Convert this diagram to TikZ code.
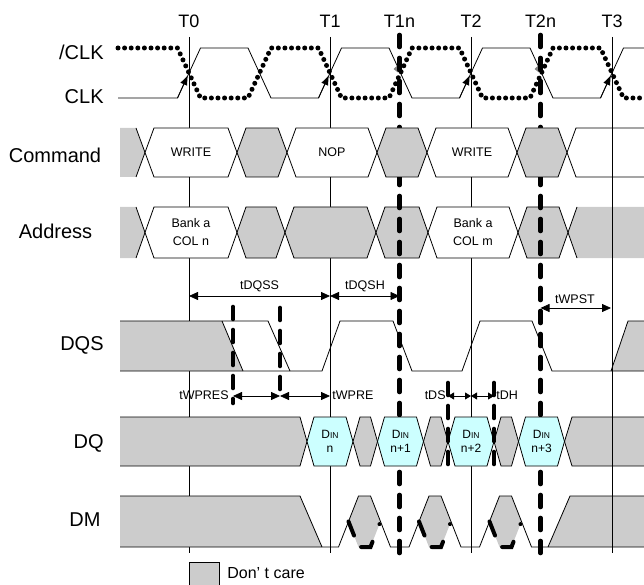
\documentclass[tikz,border=0pt]{standalone}
\usepackage{fontspec}
\setmainfont{Liberation Sans}
\usetikzlibrary{arrows.meta}
\definecolor{dinfill}{HTML}{CCFFFF}

\begin{document}
\begin{tikzpicture}[x=1pt, y=-1pt, line width=0.8pt,
    dontcare/.style={fill=gray!40},
    strobe/.style={line width=4.6pt, dash pattern=on 12pt off 11pt, line cap=round},
    dotclk/.style={line width=5pt, dash pattern=on 0pt off 6.6pt, line cap=round},
    maskedge/.style={line width=4pt, line cap=round, dash pattern=on 15pt off 15pt on 15pt off 19pt on 0pt off 20pt},
    timing/.style={{Triangle[length=9pt,width=8pt]}-{Triangle[length=9pt,width=8pt]}},
    shorttiming/.style={{Triangle[length=6pt,width=7pt]}-{Triangle[length=6pt,width=7pt]}},
    siglabel/.style={font=\fontsize{20}{24}\selectfont, inner sep=0pt},
    tlabel/.style={font=\fontsize{18}{22}\selectfont, inner sep=0pt},
    buslabel/.style={font=\fontsize{12.5}{18}\selectfont, align=center, inner sep=0pt},
    dinlabel/.style={font=\fontsize{12}{14}\selectfont, align=center, inner sep=0pt}]

\useasboundingbox (0,0) rectangle (644,585);

% right ends, the T lines run through them
\draw (644,128) -- (576,128) -- (567,152.5) -- (576,177) -- (644,177);
\path[dontcare] (568,232.5) -- (577,207) -- (644,207) -- (644,258) -- (577,258) -- cycle;
\draw (577,207) -- (568,232.5) -- (577,258);
\path[dontcare] (611,371) -- (628,321) -- (644,321) -- (644,371) -- cycle;
\draw (611,371) -- (628,321) -- (644,321);
\path[dontcare] (564.5,441.5) -- (572,417) -- (644,417) -- (644,466) -- (572,466) -- cycle;
\draw (644,417) -- (572,417) -- (564.5,441.5) -- (572,466) -- (644,466);
\path[dontcare] (548,547) -- (570,496) -- (644,496) -- (644,547) -- cycle;
\draw (548,547) -- (570,496) -- (644,496);

% clock edges
\foreach \x/\name in {189/T0, 330/T1, 471/T2, 612/T3} {
    \node[tlabel] (\name) at (\x,21) {\name};
    \coordinate (\name-top) at (\x,37);
    \coordinate (\name-bot) at (\x,553);
    \draw (\name-top) -- (\name-bot);
}
\node[tlabel] (T1n) at (399.5,21) {T1n};
\node[tlabel] (T2n) at (540.5,21) {T2n};

% row names
\node[siglabel, anchor=east] (clkbar) at (104,52) {/CLK};
\node[siglabel, anchor=east] (clk) at (104,97) {CLK};
\node[siglabel] (cmd) at (55,155) {Command};
\node[siglabel] (addr) at (55.5,231) {Address};
\node[siglabel, anchor=east] (dqs) at (104,345.5) {DQS};
\node[siglabel, anchor=east] (dq) at (104,443) {DQ};
\node[siglabel, anchor=east] (dm) at (101,519.5) {DM};

% CLK and /CLK
\draw (118,98) -- (177.5,98) -- (200.5,48) -- (248,48) -- (271,98) -- (318.5,98) -- (341.5,48) -- (389,48) -- (412,98)
    -- (459.5,98) -- (482.5,48) -- (530,48) -- (553,98) -- (600.5,98) -- (623.5,48) -- (644,48);
\draw[dotclk] (118,48) -- (177.5,48) -- (200.5,98) -- (248,98) -- (271,48) -- (318.5,48) -- (341.5,98) -- (389,98) -- (412,48)
    -- (459.5,48) -- (482.5,98) -- (530,98) -- (553,48) -- (600.5,48) -- (623.5,98) -- (644,98);
\foreach \x in {189, 330, 471, 612}
    \draw[-{Triangle[length=9pt,width=7pt]}] (\x-11.5,98) -- (\x-1.5,76);
\foreach \x in {399.5, 540.5}
    \fill[gray] (\x-6,69) -- (\x-1,64.5) -- (\x-1.5,72.5) -- cycle;

% Address
\path[dontcare] (120,207) -- (136,207) -- (145,232.5) -- (136,258) -- (120,258) -- cycle;
\draw (136,207) -- (145,232.5) -- (136,258);
\foreach \a/\b/\f in {145/237/white, 237/285/gray!40, 285/376/gray!40, 376/428/gray!40, 428/518/white, 518/568/gray!40}
    \draw[fill=\f] (\a,232.5) -- (\a+9,207) -- (\b-9,207) -- (\b,232.5) -- (\b-9,258) -- (\a+9,258) -- cycle;
\node[buslabel] (banka) at (191,232.5) {Bank a\\COL n};
\node[buslabel] (bankb) at (473,232.5) {Bank a\\COL m};

% T1n and T2n
\coordinate (T1n-top) at (399.5,35);
\coordinate (T1n-bot) at (399.5,557);
\coordinate (T2n-top) at (540.5,35);
\coordinate (T2n-bot) at (540.5,557);
\draw[strobe] (T1n-top) -- (T1n-bot);
\draw[strobe] (T2n-top) -- (T2n-bot);

% Command
\path[dontcare] (120,128) -- (136,128) -- (145,152.5) -- (136,177) -- (120,177) -- cycle;
\draw (136,128) -- (145,152.5) -- (136,177);
\foreach \a/\b/\f in {145/237/white, 237/287/gray!40, 287/377/white, 377/427/gray!40, 427/517/white, 517/567/gray!40}
    \draw[fill=\f] (\a,152.5) -- (\a+9,128) -- (\b-9,128) -- (\b,152.5) -- (\b-9,177) -- (\a+9,177) -- cycle;
\node[buslabel] (write1) at (191,152) {WRITE};
\node[buslabel] (nop) at (332,152) {NOP};
\node[buslabel] (write2) at (472,152) {WRITE};

% DQS
\path[dontcare] (120,321) -- (222,321) -- (243,371) -- (120,371) -- cycle;
\draw (222,321) -- (243,371);
\draw (120,321) -- (268,321) -- (290,371);
\draw (120,371) -- (322,371) -- (340,321) -- (393,321) -- (412,371) -- (462,371) -- (480,321) -- (532,321) -- (552,371) -- (644,371);

% DQ
\path[dontcare] (120,417) -- (300,417) -- (307,441.5) -- (300,466) -- (120,466) -- cycle;
\draw (120,417) -- (300,417) -- (307,441.5) -- (300,466) -- (120,466);
\foreach \a/\b/\f in {307/353/dinfill, 353/377.5/gray!40, 377.5/423.5/dinfill, 423.5/448/gray!40, 448/494/dinfill, 494/518.5/gray!40, 518.5/564.5/dinfill}
    \draw[fill=\f] (\a,441.5) -- (\a+7,417) -- (\b-7,417) -- (\b,441.5) -- (\b-7,466) -- (\a+7,466) -- cycle;
\node[dinlabel] (din0) at (330,441.5) {D{\fontsize{8.5}{10}\selectfont IN}\\n};
\node[dinlabel] (din1) at (400.5,441.5) {D{\fontsize{8.5}{10}\selectfont IN}\\n+1};
\node[dinlabel] (din2) at (471,441.5) {D{\fontsize{8.5}{10}\selectfont IN}\\n+2};
\node[dinlabel] (din3) at (541.5,441.5) {D{\fontsize{8.5}{10}\selectfont IN}\\n+3};

% DM
\path[dontcare] (120,496) -- (300,496) -- (322,547) -- (120,547) -- cycle;
\draw (120,496) -- (300,496) -- (322,547);
\foreach \c in {364.5, 435, 505.5}
    \path[dontcare] (\c-6,496) -- (\c+6,496) -- (\c+16,521.5) -- (\c+6,547) -- (\c-6,547) -- (\c-16,521.5) -- cycle;
\draw (120,547) -- (338.5,547) -- (358.5,496) -- (370.5,496) -- (390.5,547) -- (409,547) -- (429,496) -- (441,496) -- (461,547)
    -- (479.5,547) -- (499.5,496) -- (511.5,496) -- (531.5,547) -- (644,547);
\foreach \c in {364.5, 435, 505.5}
    \draw[maskedge] (\c-16,521.5) -- (\c-6,547) -- (\c+6,547) -- (\c+16,521.5);

% setup and hold marks
\coordinate (wpres-a) at (233,307);
\coordinate (wpres-b) at (233,403);
\coordinate (wpre-a) at (280,308);
\coordinate (wpre-b) at (280,395);
\coordinate (ds-a) at (448,383);
\coordinate (ds-b) at (448,468);
\coordinate (dh-a) at (494,383);
\coordinate (dh-b) at (494,468);
\draw[strobe] (wpres-a) -- (wpres-b);
\draw[strobe] (wpre-a) -- (wpre-b);
\draw[strobe] (ds-a) -- (ds-b);
\draw[strobe] (dh-a) -- (dh-b);

% timing arrows
\draw[timing] (189,296) -- (330,296);
\draw[timing] (330,296) -- (399.5,296);
\draw[timing] (540.5,308) -- (611,308);
\draw[timing] (233,396) -- (280,396);
\draw[timing] (280,396) -- (330,396);
\draw[shorttiming] (448,396) -- (471,396);
\draw[shorttiming] (471,396) -- (494,396);
\node[buslabel] (tdqss) at (259.5,286) {tDQSS};
\node[buslabel] (tdqsh) at (365,286) {tDQSH};
\node[buslabel] (twpst) at (575,299) {tWPST};
\node[buslabel, anchor=east] (twpres) at (229,395) {tWPRES};
\node[buslabel, anchor=west] (twpre) at (332,395) {tWPRE};
\node[buslabel, anchor=east] (tds) at (446,395) {tDS};
\node[buslabel, anchor=west] (tdh) at (496,395) {tDH};

% legend
\node[draw, dontcare, minimum width=30pt, minimum height=24pt, inner sep=0pt] (legend) at (204,574) {};
\node[font=\fontsize{16}{19}\selectfont, anchor=west, inner sep=0pt] (legendtxt) at (227,573) {Don' t care};

\end{tikzpicture}
\end{document}
